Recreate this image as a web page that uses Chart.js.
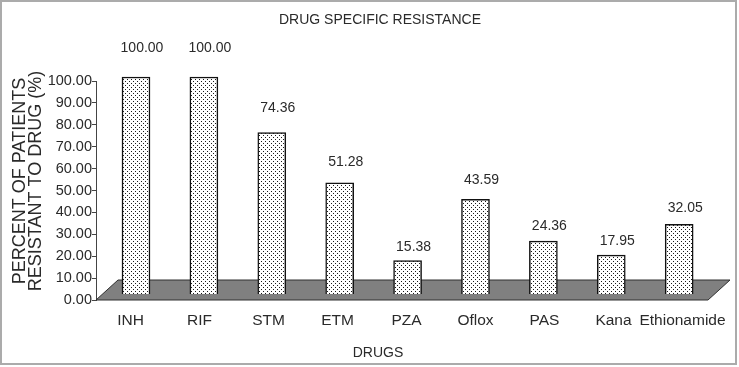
<!DOCTYPE html>
<html>
<head>
<meta charset="utf-8">
<script src="https://cdn.jsdelivr.net/npm/chart.js@4.4.1/dist/chart.umd.min.js"></script>
<style>
  html, body { margin: 0; padding: 0; background: #ffffff; }
  #wrap { width: 739px; height: 367px; }
</style>
</head>
<body>
<div id="wrap"><canvas id="c" width="739" height="367"></canvas></div>
<script>
// ---- data ----
const categories = ['INH', 'RIF', 'STM', 'ETM', 'PZA', 'Oflox', 'PAS', 'Kana', 'Ethionamide'];
const resistance = [100.00, 100.00, 74.36, 51.28, 15.38, 43.59, 24.36, 17.95, 32.05];
const yTickValues = [0, 10, 20, 30, 40, 50, 60, 70, 80, 90, 100];
const chartTitle = 'DRUG SPECIFIC RESISTANCE';
const xTitle = 'DRUGS';
const yTitleLines = ['PERCENT OF PATIENTS', 'RESISTANT TO DRUG (%)'];

const FONT = '"Liberation Sans", Arial, sans-serif';
const TEXT = '#2a2a2a';

// dotted fill pattern
function dotPattern() {
  const c = document.createElement('canvas');
  c.width = 4; c.height = 4;
  const g = c.getContext('2d');
  g.fillStyle = '#ffffff'; g.fillRect(0, 0, 4, 4);
  g.fillStyle = '#1a1a1a';
  g.fillRect(1, 1, 1, 1);
  g.fillRect(3, 3, 1, 1);
  return g.createPattern(c, 'repeat');
}
const ctx0 = document.getElementById('c').getContext('2d');
const pattern = dotPattern();

const deco = {
  id: 'deco',
  beforeDraw(chart) {
    const ctx = chart.ctx;
    ctx.save();
    ctx.fillStyle = '#ffffff';
    ctx.fillRect(0, 0, chart.width, chart.height);
    ctx.restore();
  },
  beforeDatasetsDraw(chart) {
    const ctx = chart.ctx;
    const a = chart.chartArea;
    const dx = 22, dy = -20;
    const bl = a.left, br = a.right - 9, by = a.bottom;
    ctx.save();
    ctx.beginPath();
    ctx.moveTo(bl, by);
    ctx.lineTo(bl + dx, by + dy);
    ctx.lineTo(br + dx, by + dy);
    ctx.lineTo(br, by);
    ctx.closePath();
    ctx.fillStyle = '#808080';
    ctx.fill();
    ctx.strokeStyle = '#303030';
    ctx.lineWidth = 1;
    ctx.stroke();
    ctx.restore();
  },
  afterDatasetsDraw(chart) {
    const ctx = chart.ctx;
    const xs = chart.scales.x2, ys = chart.scales.y3;
    ctx.save();
    ctx.font = '14px ' + FONT;
    ctx.fillStyle = TEXT;
    ctx.textAlign = 'center';
    ctx.textBaseline = 'middle';
    resistance.forEach((v, i) => {
      ctx.fillText(v.toFixed(2), xs.getPixelForValue(i) + 6, ys.getPixelForValue(v));
    });
    ctx.restore();
  },
  afterDraw(chart) {
    const ctx = chart.ctx;
    ctx.save();
    ctx.fillStyle = TEXT;
    ctx.textBaseline = 'alphabetic';
    ctx.textAlign = 'center';
    ctx.font = '14px ' + FONT;
    ctx.fillText(chartTitle, 380, 24);
    ctx.fillText(xTitle, 378, 357);
    ctx.font = '18px ' + FONT;
    const xs = [25, 41];
    yTitleLines.forEach((t, k) => {
      ctx.save();
      ctx.translate(xs[k], 181);
      ctx.rotate(-Math.PI / 2);
      ctx.fillText(t, 0, 0);
      ctx.restore();
    });
    // frame
    ctx.strokeStyle = '#ababab';
    ctx.lineWidth = 2;
    ctx.strokeRect(1, 1, 735, 363);
    ctx.restore();
  }
};

new Chart(ctx0, {
  type: 'bar',
  data: {
    labels: categories,
    datasets: [{
      data: resistance.map((v, i) => ({ x: i, y: v })),
      xAxisID: 'x2',
      yAxisID: 'y2',
      backgroundColor: pattern,
      borderColor: '#111111',
      borderWidth: 1.5,
      barThickness: 28,
      clip: false
    }]
  },
  options: {
    responsive: false,
    animation: false,
    devicePixelRatio: 1,
    layout: { padding: { top: 81, right: 22, bottom: 0, left: 0 } },
    plugins: { legend: { display: false }, tooltip: { enabled: false }, title: { display: false } },
    scales: {
      x: {
        type: 'category',
        offset: true,
        grid: { display: false },
        border: { display: false },
        ticks: { autoSkip: false, maxRotation: 0, padding: 3, color: TEXT, font: { family: FONT, size: 15.5 } },
        afterFit(s) { s.height = 67; }
      },
      y: {
        type: 'linear',
        min: 0, max: 100,
        afterBuildTicks(s) { s.ticks = yTickValues.map(v => ({ value: v })); },
        grid: { drawOnChartArea: false, drawTicks: true, tickLength: 4, color: '#444444' },
        border: { display: true, color: '#444444', width: 1 },
        ticks: { padding: 0, color: TEXT, font: { family: FONT, size: 14.5 }, callback: v => Number(v).toFixed(2) },
        afterFit(s) { s.width = 96; }
      },
      x2: { type: 'linear', display: false, offset: false, min: -0.589, max: 8.557 },
      y2: { type: 'linear', display: false, min: -2.765, max: 98.16 },
      y3: { type: 'linear', display: false, min: -7.234, max: 85.96 }
    }
  },
  plugins: [deco]
});
</script>
</body>
</html>
